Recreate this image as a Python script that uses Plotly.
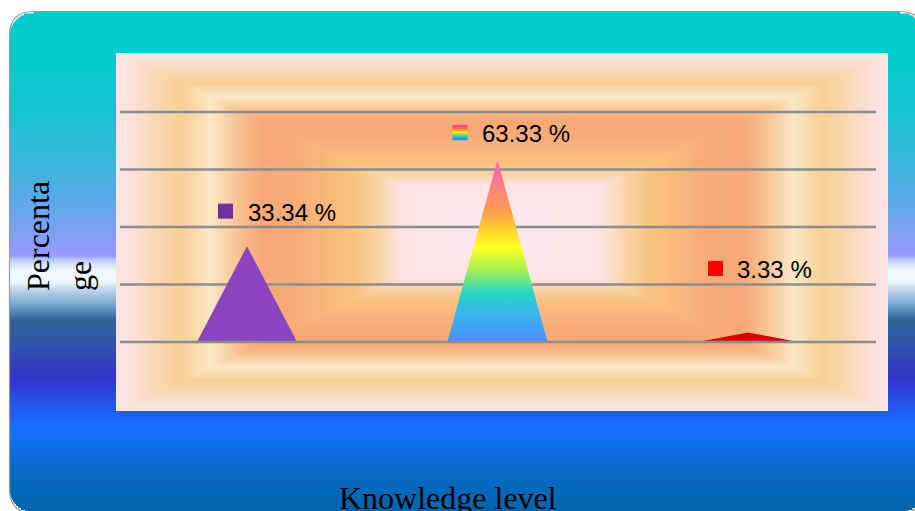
import numpy as np
import plotly.graph_objects as go

# ---------------- data ----------------
categories = ["High", "Moderate", "Low"]
percentages = [33.34, 63.33, 3.33]
label_texts = ["33.34 %", "63.33 %", "3.33 %"]
grid_values = [0, 20, 40, 60, 80]
y_title = "Percenta<br>ge"
x_title = "Knowledge level"

# ---------------- layout geometry (pixels) ----------------
W, H = 915, 511
PL, PR, PT, PB = 116, 888, 53, 411
pw, ph = PR - PL, PB - PT


def pxx(px):
    return (px - PL) / pw


def pxy(py):
    return (PB - py) / ph


def hex2rgb(h):
    h = h.lstrip("#")
    return np.array([int(h[i:i + 2], 16) for i in (0, 2, 4)], dtype=float)


def interp(stops, v):
    pos = [s[0] for s in stops]
    if v <= pos[0]:
        c = hex2rgb(stops[0][1])
    elif v >= pos[-1]:
        c = hex2rgb(stops[-1][1])
    else:
        for (p0, c0), (p1, c1) in zip(stops[:-1], stops[1:]):
            if p0 <= v <= p1:
                f = (v - p0) / (p1 - p0) if p1 > p0 else 0
                c = hex2rgb(c0) * (1 - f) + hex2rgb(c1) * f
                break
    return "rgb(%d,%d,%d)" % tuple(np.round(c).astype(int))


shapes = []

# ---- outer rounded panel with vertical gradient ----
outer_stops = [
    (11, "#00CCCC"), (58, "#00CCCC"), (120, "#1CC2D4"), (180, "#48B0E2"),
    (230, "#7CA0F2"), (256, "#9999FF"), (259, "#B4C4FA"), (265, "#D8E6FA"),
    (271, "#F0F8FF"), (282, "#F0F8FF"), (288, "#C8DCF0"), (296, "#A0C0E0"),
    (304, "#78A8D0"), (312, "#5086B8"), (320, "#2E6594"), (340, "#2F58A8"),
    (378, "#3333CC"), (405, "#2256EE"), (428, "#1670FF"), (470, "#0A6ACC"),
    (513, "#0066AA"),
]
X0, Y0, X1, Y1, R = 9.5, 11.5, 924.0, 513.0, 24.0
step = 2.0
y = Y0
while y < Y1:
    ya, yb = y, min(y + step, Y1)
    inset = 0.0
    for yy in (ya, yb):
        if yy < Y0 + R:
            d = Y0 + R - yy
            inset = max(inset, R - np.sqrt(max(R * R - d * d, 0)))
        elif yy > Y1 - R:
            d = yy - (Y1 - R)
            inset = max(inset, R - np.sqrt(max(R * R - d * d, 0)))
    shapes.append(dict(
        type="rect", xref="paper", yref="paper", layer="below",
        x0=pxx(X0 + inset), x1=pxx(X1 - inset),
        y0=pxy(ya), y1=pxy(min(yb + 0.6, Y1)),
        fillcolor=interp(outer_stops, (ya + yb) / 2), line=dict(width=0),
    ))
    y += step

# border of the panel
def P(px, py):
    return "%.6f,%.6f" % (pxx(px), pxy(py))

border = ("M" + P(X0 + R, Y0) + " L" + P(X1 - R, Y0) + " Q" + P(X1, Y0) + " " + P(X1, Y0 + R)
          + " L" + P(X1, Y1 - R) + " Q" + P(X1, Y1) + " " + P(X1 - R, Y1)
          + " L" + P(X0 + R, Y1) + " Q" + P(X0, Y1) + " " + P(X0, Y1 - R)
          + " L" + P(X0, Y0 + R) + " Q" + P(X0, Y0) + " " + P(X0 + R, Y0) + " Z")
shapes.append(dict(type="path", xref="paper", yref="paper", layer="below", path=border,
                   line=dict(color="#9A9A9A", width=1.2)))

# ---- plot area rectangular (path) gradient ----
inner_stops = [
    (0.00, "#FCE4E6"), (0.04, "#FCE1DC"), (0.10, "#FAD8B6"), (0.17, "#F8CF96"),
    (0.21, "#F9DBAE"), (0.245, "#FAE8C8"), (0.29, "#F9D0A4"), (0.34, "#F8B686"),
    (0.38, "#F8A878"), (0.46, "#F8AA78"), (0.55, "#F9B87C"), (0.62, "#F9C482"),
    (0.68, "#FAD4A6"), (0.74, "#FCE4E4"), (1.00, "#FDE8F2"),
]
N = 130
for k in range(N):
    t = k / N
    shapes.append(dict(
        type="rect", xref="paper", yref="paper", layer="below",
        x0=t / 2, x1=1 - t / 2, y0=t / 2, y1=1 - t / 2,
        fillcolor=interp(inner_stops, t + 0.5 / N), line=dict(width=0),
    ))

# ---- gridlines (baseline drawn over the marks) ----
for g in grid_values:
    shapes.append(dict(type="line", xref="paper", yref="y",
                       layer="above" if g == 0 else "below",
                       x0=pxx(120), x1=pxx(876), y0=g, y1=g,
                       line=dict(color="#8C8C8C", width=2.5)))

# ---------------- traces ----------------
half = 0.2
fig = go.Figure()
tri_colors = ["#8B45BE", None, "#DD0000"]
rainbow = [[0.0, "#4E8EFF"], [0.15, "#3AB4F0"], [0.27, "#26D6C2"], [0.40, "#AAF050"],
           [0.52, "#FFFF22"], [0.62, "#FFD030"], [0.72, "#FF9A50"], [0.86, "#FF7E84"],
           [1.0, "#FF66B0"]]
for i, (cat, v) in enumerate(zip(categories, percentages)):
    xs = [i - half, i, i + half, i - half]
    ys = [0, v, 0, 0]
    kw = dict(x=xs, y=ys, mode="lines", fill="toself", line=dict(width=0),
              name=cat, hoverinfo="skip", showlegend=False)
    if tri_colors[i] is None:
        kw["fillgradient"] = dict(type="vertical", colorscale=rainbow, start=0, stop=v)
    else:
        kw["fillcolor"] = tri_colors[i]
    fig.add_trace(go.Scatter(**kw))

# ---------------- data labels with legend keys ----------------
key_dx = [-29, -45, -40]     # pixel offset of key square from category centre
label_dy = [35, 27.5, 64]    # pixel offset of label above the apex
key_colors = ["#7030A0", None, "#FF0000"]
rainbow_key = ["#FF3E8E", "#FF6A50", "#FFA030", "#FFF020", "#90E040", "#20C8C8", "#3A8AE8"]
annotations = []
for i, (v, txt) in enumerate(zip(percentages, label_texts)):
    if key_colors[i] is not None:
        shapes.append(dict(type="rect", xref="x", yref="y", layer="above",
                           xsizemode="pixel", ysizemode="pixel", xanchor=i, yanchor=v,
                           x0=key_dx[i], x1=key_dx[i] + 15,
                           y0=label_dy[i] - 7.5, y1=label_dy[i] + 7.5,
                           fillcolor=key_colors[i], line=dict(width=0)))
    else:
        n = len(rainbow_key)
        for j, c in enumerate(rainbow_key):
            top = label_dy[i] + 7.5 - j * 15 / n
            shapes.append(dict(type="rect", xref="x", yref="y", layer="above",
                               xsizemode="pixel", ysizemode="pixel", xanchor=i, yanchor=v,
                               x0=key_dx[i], x1=key_dx[i] + 15,
                               y0=top - 15 / n - 0.3, y1=top,
                               fillcolor=c, line=dict(width=0)))
    annotations.append(dict(x=i, y=v, xref="x", yref="y", text=txt, showarrow=False,
                            xanchor="left", yanchor="middle",
                            xshift=key_dx[i] + 27.5, yshift=label_dy[i] - 1,
                            font=dict(family="Liberation Sans, Arial", size=24, color="#000000")))

annotations.append(dict(x=pxx(59), y=pxy(236), xref="paper", yref="paper", text=y_title,
                        showarrow=False, textangle=-90, align="left",
                        xanchor="center", yanchor="middle",
                        font=dict(family="Liberation Serif, Times New Roman", size=32, color="#000000")))
annotations.append(dict(x=pxx(447.5), y=pxy(498), xref="paper", yref="paper", text=x_title,
                        showarrow=False, xanchor="center", yanchor="middle",
                        font=dict(family="Liberation Serif, Times New Roman", size=32, color="#000000")))

fig.update_layout(
    width=W, height=H, margin=dict(l=PL, r=W - PR, t=PT, b=H - PB, pad=0),
    paper_bgcolor="#FFFFFF", plot_bgcolor="rgba(0,0,0,0)",
    xaxis=dict(range=[-0.523, 2.559], visible=False, fixedrange=True),
    yaxis=dict(range=[-24.0, 100.52], visible=False, fixedrange=True),
    shapes=shapes, annotations=annotations, showlegend=False,
)
fig.write_html("out.html", config={"displayModeBar": False})
